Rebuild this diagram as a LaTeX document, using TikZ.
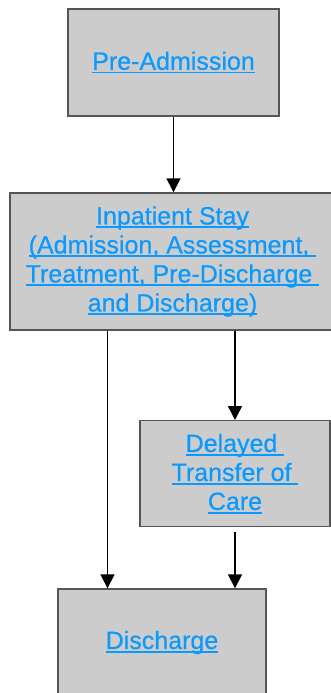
\documentclass[tikz,border=0pt]{standalone}
\usepackage{fontspec}
\setmainfont{Liberation Sans}
\newfontfamily\linkfont{Liberation Sans}[FakeBold=0.5]
\usetikzlibrary{arrows.meta}

\definecolor{linkblue}{RGB}{10,153,255}
\definecolor{boxgray}{RGB}{204,204,204}
\definecolor{boxline}{RGB}{85,85,85}

% underlined link text, the line running under trailing spaces too
\newcommand{\lnkline}[1]{\setbox0\hbox{#1}\rlap{\rule[-3.6pt]{\wd0}{1.6pt}}\box0}

\tikzset{
  stagebox/.style={rectangle,draw=boxline,line width=1.4pt,fill=boxgray,
    text=linkblue,align=center,inner sep=0pt,
    font=\linkfont\fontsize{25}{29}\selectfont},
  flow/.style={-{Triangle[length=14pt,width=14pt]},line width=1.5pt}
}

\begin{document}
\begin{tikzpicture}[x=1pt,y=-1pt]
  \useasboundingbox (0,0) rectangle (331,693);

  \node [stagebox,minimum width=211pt,minimum height=107pt] (pre) at (173.5,62.5) {\lnkline{Pre-Admission}};
  \node [stagebox,minimum width=325pt,minimum height=137pt] (inp) at (172.5,261.5)
    {\lnkline{Inpatient Stay}\\\lnkline{(Admission, Assessment,\ }\\\lnkline{Treatment, Pre-Discharge\ }\\\lnkline{and Discharge)}};
  \node [stagebox,minimum width=190pt,minimum height=106pt] (del) at (235,473.7)
    {\lnkline{Delayed\ }\\\lnkline{Transfer of\ }\\\lnkline{Care}};
  \node [stagebox,minimum width=208pt,minimum height=107pt] (dis) at (162,642.5) {\lnkline{Discharge}};

  \coordinate (inpleft) at ([xshift=-65pt]inp.south);

  \draw [flow] (pre.south) -- (pre.south |- inp.north);
  \draw [flow] (inpleft) -- (inpleft |- dis.north);
  \draw [flow] (inp.south -| del.north) -- (del.north);
  \draw [flow] ([yshift=-5pt]del.south) -- (del.south |- dis.north);
\end{tikzpicture}
\end{document}
